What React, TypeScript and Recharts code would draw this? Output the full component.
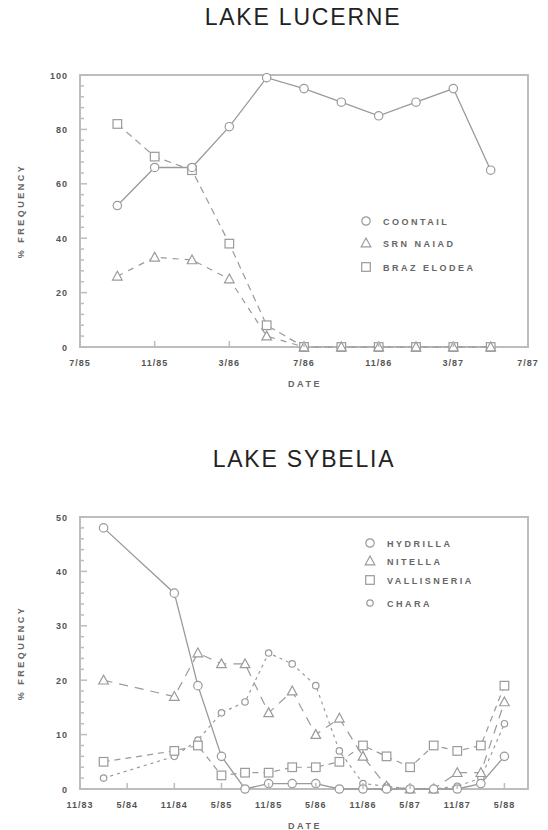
import React from 'react';
import { LineChart, Line, XAxis, YAxis, ReferenceArea } from 'recharts';

// ---------- Lake Lucerne ----------
const lucerneDates = ['9/85', '11/85', '1/86', '3/86', '5/86', '7/86', '9/86', '11/86', '1/87', '3/87', '5/87'];
const coontail = [52, 66, 66, 81, 99, 95, 90, 85, 90, 95, 65];
const srnNaiad = [26, 33, 32, 25, 4, 0, 0, 0, 0, 0, 0];
const brazElodea = [82, 70, 65, 38, 8, 0, 0, 0, 0, 0, 0];
const lucerneTicks = ['7/85', '11/85', '3/86', '7/86', '11/86', '3/87', '7/87'];
const lucerneYTicks = [0, 20, 40, 60, 80, 100];

// ---------- Lake Sybelia ----------
const sybeliaDates = ['2/84', '11/84', '2/85', '5/85', '8/85', '11/85', '2/86', '5/86', '8/86', '11/86', '2/87', '5/87', '8/87', '11/87', '2/88', '5/88'];
const hydrilla = [48, 36, 19, 6, 0, 1, 1, 1, 0, 0, 0, 0, 0, 0, 1, 6];
const nitella = [20, 17, 25, 23, 23, 14, 18, 10, 13, 6, 0.5, 0, 0, 3, 3, 16];
const vallisneria = [5, 7, 8, 2.5, 3, 3, 4, 4, 5, 8, 6, 4, 8, 7, 8, 19];
const chara = [2, 6, 9, 14, 16, 25, 23, 19, 7, 1, 0.5, 0, 0, 0.5, 2, 12];
const sybeliaTicks = ['11/83', '5/84', '11/84', '5/85', '11/85', '5/86', '11/86', '5/87', '11/87', '5/88'];
const sybeliaYTicks = [0, 10, 20, 30, 40, 50];
const sybeliaEnd = '8/88';

const toMonth = (s: string) => {
  const [m, y] = s.split('/').map(Number);
  return (1900 + y) * 12 + (m - 1);
};
const fromMonth = (v: number) => `${(v % 12) + 1}/${Math.floor(v / 12) % 100}`;

const lucerneData = lucerneDates.map((d, i) => ({
  t: toMonth(d),
  coontail: coontail[i],
  naiad: srnNaiad[i],
  elodea: brazElodea[i],
}));
const sybeliaData = sybeliaDates.map((d, i) => ({
  t: toMonth(d),
  hydrilla: hydrilla[i],
  nitella: nitella[i],
  vallisneria: vallisneria[i],
  chara: chara[i],
}));

const FONT = '"Liberation Sans", Arial, sans-serif';
const LINE = '#9a9a9a';
const FRAME = '#bdbdbd';
const TEXT = '#555';
const TM = 10;

type Shape = 'circle' | 'triangle' | 'square' | 'small';

const MarkerShape = ({ cx, cy, shape }: { cx: number; cy: number; shape: Shape }) => {
  const common = { fill: '#fff', stroke: LINE, strokeWidth: 1.2 };
  if (shape === 'circle') return <circle cx={cx} cy={cy} r={4.2} {...common} />;
  if (shape === 'small') return <circle cx={cx} cy={cy} r={3.2} {...common} />;
  if (shape === 'triangle')
    return <polygon points={`${cx},${cy - 5} ${cx - 4.8},${cy + 3.8} ${cx + 4.8},${cy + 3.8}`} {...common} />;
  return <rect x={cx - 4.3} y={cy - 4.3} width={8.6} height={8.6} {...common} />;
};

const dotFor = (shape: Shape) => (p: any) =>
  <MarkerShape key={`${shape}-${p.index}`} cx={p.cx} cy={p.cy} shape={shape} />;

const makeYTick = (major: number) => (props: any) => {
  const { x, y, payload } = props;
  const axisX = x + TM;
  const isMajor = payload.value % major === 0;
  return (
    <g>
      <line x1={axisX} x2={axisX + (isMajor ? 7 : 4)} y1={y} y2={y} stroke={FRAME} strokeWidth={1.5} />
      {isMajor && (
        <text x={axisX - 12} y={y + 3.5} textAnchor="end" fontSize={9} fontWeight="bold" fill={TEXT}
          fontFamily={FONT} letterSpacing={1}>
          {payload.value}
        </text>
      )}
    </g>
  );
};

const XTick = (props: any) => {
  const { x, y, payload } = props;
  const axisY = y - TM;
  return (
    <g>
      <line x1={x} x2={x} y1={axisY} y2={axisY - 6} stroke={FRAME} strokeWidth={1.5} />
      <text x={x} y={axisY + 19} textAnchor="middle" fontSize={9} fontWeight="bold" fill={TEXT}
        fontFamily={FONT} letterSpacing={1}>
        {fromMonth(payload.value)}
      </text>
    </g>
  );
};

const LegendBox = ({ x, y, items, rows }: { x: number; y: number; items: { label: string; shape: Shape }[]; rows: number[] }) => (
  <g transform={`translate(${x},${y})`}>
    {items.map((it, i) => (
      <g key={it.label}>
        <MarkerShape cx={0} cy={rows[i]} shape={it.shape} />
        <text x={17} y={rows[i] + 3.5} fontSize={9} fontWeight="bold" fill="#666" fontFamily={FONT}
          letterSpacing={2.5}>
          {it.label}
        </text>
      </g>
    ))}
  </g>
);

const range = (a: number, b: number, step: number) => {
  const out: number[] = [];
  for (let v = a; v <= b + 1e-9; v += step) out.push(v);
  return out;
};

export default function App() {
  const lDomain = [toMonth(lucerneTicks[0]), toMonth(lucerneTicks[lucerneTicks.length - 1])];
  const sDomain = [toMonth(sybeliaTicks[0]), toMonth(sybeliaEnd)];
  const lYMinor = range(lucerneYTicks[0], lucerneYTicks[lucerneYTicks.length - 1], 4);
  const sYMinor = range(sybeliaYTicks[0], sybeliaYTicks[sybeliaYTicks.length - 1], 2);

  return (
    <div style={{ position: 'absolute', left: 0, top: 0, width: 548, height: 830, background: '#fff' }}>
      <div style={{ position: 'absolute', left: 0, top: 0 }}>
        <LineChart width={548} height={400} data={lucerneData} margin={{ top: 75, right: 20, bottom: 23, left: 0 }}>
          <XAxis dataKey="t" type="number" domain={lDomain} ticks={lucerneTicks.map(toMonth)} interval={0}
            allowDataOverflow axisLine={false} tickLine={false} tickSize={0} tickMargin={TM} height={30}
            tick={XTick} />
          <YAxis type="number" domain={[0, 100]} ticks={lYMinor} interval={0} axisLine={false} tickLine={false}
            tickSize={0} tickMargin={TM} width={80} tick={makeYTick(20)} />
          <ReferenceArea x1={lDomain[0]} x2={lDomain[1]} y1={0} y2={100} fill="none" stroke={FRAME}
            strokeWidth={2} ifOverflow="visible" />
          <Line dataKey="elodea" stroke={LINE} strokeWidth={1.2} strokeDasharray="7 5" dot={dotFor('square')}
            isAnimationActive={false} />
          <Line dataKey="naiad" stroke={LINE} strokeWidth={1.2} strokeDasharray="6 6" dot={dotFor('triangle')}
            isAnimationActive={false} />
          <Line dataKey="coontail" stroke={LINE} strokeWidth={1.3} dot={dotFor('circle')}
            isAnimationActive={false} />
        </LineChart>
      </div>

      <div style={{ position: 'absolute', left: 0, top: 440 }}>
        <LineChart width={548} height={390} data={sybeliaData} margin={{ top: 77, right: 20, bottom: 11, left: 0 }}>
          <XAxis dataKey="t" type="number" domain={sDomain} ticks={sybeliaTicks.map(toMonth)} interval={0}
            allowDataOverflow axisLine={false} tickLine={false} tickSize={0} tickMargin={TM} height={30}
            tick={XTick} />
          <YAxis type="number" domain={[0, 50]} ticks={sYMinor} interval={0} axisLine={false} tickLine={false}
            tickSize={0} tickMargin={TM} width={80} tick={makeYTick(10)} />
          <ReferenceArea x1={sDomain[0]} x2={sDomain[1]} y1={0} y2={50} fill="none" stroke={FRAME}
            strokeWidth={2} ifOverflow="visible" />
          <Line dataKey="chara" stroke={LINE} strokeWidth={1.2} strokeDasharray="3 4" dot={dotFor('small')}
            isAnimationActive={false} />
          <Line dataKey="vallisneria" stroke={LINE} strokeWidth={1.2} strokeDasharray="6 5" dot={dotFor('square')}
            isAnimationActive={false} />
          <Line dataKey="nitella" stroke={LINE} strokeWidth={1.2} strokeDasharray="9 7" dot={dotFor('triangle')}
            isAnimationActive={false} />
          <Line dataKey="hydrilla" stroke={LINE} strokeWidth={1.3} dot={dotFor('circle')}
            isAnimationActive={false} />
        </LineChart>
      </div>

      <svg width={548} height={830} style={{ position: 'absolute', left: 0, top: 0, pointerEvents: 'none' }}>
        <text x={303} y={25} textAnchor="middle" fontSize={23} fill="#222" fontFamily={FONT} letterSpacing={1.8}>
          LAKE LUCERNE
        </text>
        <text x={304} y={467} textAnchor="middle" fontSize={23} fill="#222" fontFamily={FONT} letterSpacing={1.8}>
          LAKE SYBELIA
        </text>
        <text x={305} y={387} textAnchor="middle" fontSize={9} fontWeight="bold" fill="#666" fontFamily={FONT}
          letterSpacing={2.5}>DATE</text>
        <text x={305} y={829} textAnchor="middle" fontSize={9} fontWeight="bold" fill="#666" fontFamily={FONT}
          letterSpacing={2.5}>DATE</text>
        <text transform="translate(24,211) rotate(-90)" textAnchor="middle" fontSize={9} fontWeight="bold"
          fill="#666" fontFamily={FONT} letterSpacing={2.5}>% FREQUENCY</text>
        <text transform="translate(24,653) rotate(-90)" textAnchor="middle" fontSize={9} fontWeight="bold"
          fill="#666" fontFamily={FONT} letterSpacing={2.5}>% FREQUENCY</text>
        <LegendBox x={366} y={221} rows={[0, 22, 46]}
          items={[
            { label: 'COONTAIL', shape: 'circle' },
            { label: 'SRN NAIAD', shape: 'triangle' },
            { label: 'BRAZ ELODEA', shape: 'square' },
          ]} />
        <LegendBox x={370} y={543} rows={[0, 18, 37, 60]}
          items={[
            { label: 'HYDRILLA', shape: 'circle' },
            { label: 'NITELLA', shape: 'triangle' },
            { label: 'VALLISNERIA', shape: 'square' },
            { label: 'CHARA', shape: 'small' },
          ]} />
      </svg>
    </div>
  );
}
